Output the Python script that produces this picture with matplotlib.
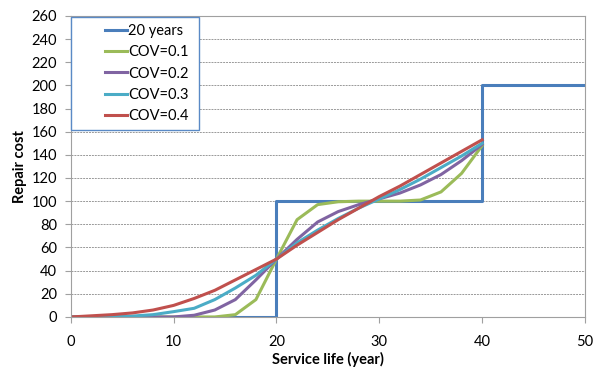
import matplotlib.pyplot as plt
from matplotlib.legend_handler import HandlerLine2D

plt.rcParams['font.family'] = ['Lato', 'DejaVu Sans']

# step schedule: repair every 20 years
step_x = [0, 20, 20, 40, 40, 50]
step_y = [0, 0, 100, 100, 200, 200]

years = list(range(0, 42, 2))
cov01 = [0, 0, 0, 0, 0, 0, 0, 0, 2, 15, 50, 84, 97, 99.5, 100, 100, 100, 101, 108, 124, 148]
cov02 = [0, 0, 0, 0, 0, 0, 1.5, 6, 15, 32, 50, 67, 82, 91, 97, 102, 107, 114, 123, 135, 149]
cov03 = [0, 0, 0.3, 0.8, 2, 4.6, 7.5, 15, 25, 36, 50, 64, 75, 85, 94, 102, 110, 119, 129, 139, 150]
cov04 = [0, 1, 2, 3.5, 6, 10, 16, 23, 32, 41, 50, 62, 73, 84, 94, 104, 113, 123, 133, 143, 153]


class PaddedLine(HandlerLine2D):
    # leave blank space left of the legend line
    def create_artists(self, legend, orig_handle, xdescent, ydescent,
                       width, height, fontsize, trans):
        pad = 0.55 * width
        return super().create_artists(legend, orig_handle, xdescent - pad,
                                      ydescent, width - pad, height,
                                      fontsize, trans)


fig = plt.figure(figsize=(6, 3.69), dpi=100)
ax = fig.add_axes([0.118, 0.141, 0.857, 0.816])

lw = 2.2
ax.plot(step_x, step_y, color='#4A7EBB', lw=lw, label='20 years')
ax.plot(years, cov01, color='#9BBB59', lw=lw, label='COV=0.1')
ax.plot(years, cov02, color='#8064A2', lw=lw, label='COV=0.2')
ax.plot(years, cov03, color='#4BACC6', lw=lw, label='COV=0.3')
ax.plot(years, cov04, color='#C0504D', lw=lw, label='COV=0.4')

ax.set_xlim(0, 50)
ax.set_ylim(0, 260)
ax.set_xticks(range(0, 51, 10))
ax.set_yticks(range(0, 261, 20))
ax.yaxis.grid(True, color='#999999', linestyle=(0, (2, 1)), lw=0.7)
ax.set_axisbelow(True)
for s in ax.spines.values():
    s.set_color('#A0A0A0')
ax.tick_params(colors='#A0A0A0', labelcolor='black', labelsize=10.5, length=4)
ax.tick_params(axis='x', pad=9)
ax.tick_params(axis='y', pad=6)

ax.set_xlabel('Service life (year)', fontweight='bold', fontsize=10.5, labelpad=2)
ax.set_ylabel('Repair cost', fontweight='bold', fontsize=10.5, labelpad=3)

leg = ax.legend(loc='upper left', bbox_to_anchor=(0.0, 0.995, 0.25, 0), mode='expand',
                fontsize=10.5, fancybox=False, framealpha=1, edgecolor='#5A8AC6',
                handlelength=3.4, handletextpad=0.1, labelspacing=0.5,
                borderaxespad=0.0, borderpad=0.45,
                handler_map={plt.Line2D: PaddedLine()})
leg.get_frame().set_linewidth(1.0)

fig.savefig('out.png', dpi=100)
